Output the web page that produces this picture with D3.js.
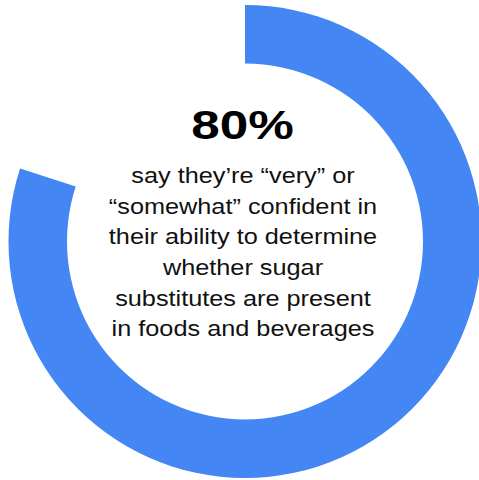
<!DOCTYPE html>
<html>
<head>
<meta charset="utf-8">
<script src="https://cdn.jsdelivr.net/npm/d3@7"></script>
<style>
  html, body { margin: 0; padding: 0; background: #fff; }
  svg { display: block; }
</style>
</head>
<body>
<svg id="chart"></svg>
<script>
// data
const segments = ["confident", "rest"];
const shares = [80, 20];
const headline = "80%";
const captionLines = [
    "say they\u2019re \u201cvery\u201d or",
    "\u201csomewhat\u201d confident in",
    "their ability to determine",
    "whether sugar",
    "substitutes are present",
    "in foods and beverages"
];

const config = {
    width: 479,
    height: 480,
    cx: 245,
    cy: 241.5,
    outer: 236.5,
    inner: 178,
    colors: ["#4386f4", "none"]
};

let svg = d3.select("#chart")
    .attr("width", config.width)
    .attr("height", config.height);

let g = svg.append("g")
    .attr("transform", `translate(${config.cx}, ${config.cy})`);

// ring
let pie = d3.pie().sort(null).value(d => d.value);
let arc = d3.arc().innerRadius(config.inner).outerRadius(config.outer);

let pieData = pie(segments.map((k, i) => ({key: k, value: shares[i]})));

g.selectAll("path")
    .data(pieData)
    .join("path")
    .attr("d", arc)
    .attr("fill", (d, i) => config.colors[i]);

// big number (the original font is wider than Arial, so stretch a bit)
g.append("g")
    .attr("transform", "translate(-2.5, -102.5) scale(1.25, 1)")
    .append("text")
    .attr("text-anchor", "middle")
    .attr("font-family", "'Liberation Sans', Arial, sans-serif")
    .attr("font-weight", "bold")
    .attr("font-size", "41px")
    .attr("fill", "#000")
    .text(headline);

// caption
let caption = g.append("g")
    .attr("transform", "translate(-2, 0) scale(1.15, 1)")
    .append("text")
    .attr("text-anchor", "middle")
    .attr("font-family", "'Liberation Sans', Arial, sans-serif")
    .attr("font-size", "22px")
    .attr("fill", "#111");

caption.selectAll("tspan")
    .data(captionLines)
    .join("tspan")
    .attr("x", 0)
    .attr("y", (d, i) => -58.5 + i * 30.7)
    .text(d => d);
</script>
</body>
</html>
